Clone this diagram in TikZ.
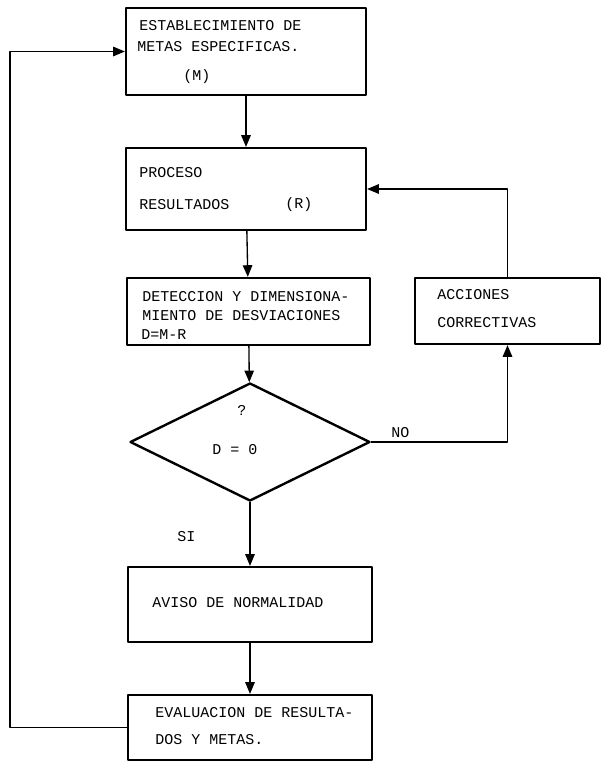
\documentclass[tikz,border=0pt]{standalone}
\usepackage{fontspec}
\setmonofont{Liberation Mono}
\usepackage{tikz}
\usetikzlibrary{arrows,fit,shapes.geometric}
\tikzset{caja/.style={draw,line width=1.8pt,inner sep=0pt},
  txt/.style={anchor=west,inner sep=0pt,font=\ttfamily\fontsize{11.25}{14}\selectfont}}

\begin{document}
\begin{tikzpicture}[line cap=round,line join=round,>=triangle 45,x=0.75pt,y=-0.75pt]
\useasboundingbox (0,0) rectangle (605,765);
\node[caja,fit={(126,8) (366,95)}] (metas) {};
\node[caja,fit={(126,148) (366,230)}] (proceso) {};
\node[caja,fit={(127,278) (370,345)}] (deteccion) {};
\node[caja,fit={(415,278) (600,344)}] (acciones) {};
\node[draw,line width=1.8pt,diamond,inner sep=0pt,minimum width=180pt,minimum height=88.5pt] (decision) at (250,442) {};
\node[caja,fit={(128,567) (372,642)}] (aviso) {};
\node[caja,fit={(128,695) (372,760)}] (evaluacion) {};
\node[txt] (t1) at (139,26) {ESTABLECIMIENTO DE};
\node[txt] (t2) at (137,47) {METAS ESPECIFICAS.};
\node[txt] (t3) at (183,77) {(M)};
\node[txt] (t4) at (139,173) {PROCESO};
\node[txt] (t5) at (139,205) {RESULTADOS};
\node[txt] (t6) at (285,205) {(R)};
\node[txt] (t7) at (142,297) {DETECCION Y DIMENSIONA-};
\node[txt] (t8) at (142,316) {MIENTO DE DESVIACIONES};
\node[txt] (t9) at (141,335) {D=M-R};
\node[txt] (t10) at (437,295) {ACCIONES};
\node[txt] (t11) at (437,323) {CORRECTIVAS};
\node[txt] (t12) at (237,410) {?};
\node[txt] (t13) at (212,450) {D = 0};
\node[txt] (t14) at (391,433) {NO};
\node[txt] (t15) at (177,537) {SI};
\node[txt] (t16) at (152,603) {AVISO DE NORMALIDAD};
\node[txt] (t17) at (155,713) {EVALUACION DE RESULTA-};
\node[txt] (t18) at (155,740) {DOS Y METAS.};
\draw [line width=1pt,->] (metas) -- (proceso);
\draw [line width=1pt,->] (proceso) -- (deteccion);
\draw [line width=1pt,->] (deteccion) -- (decision);
\draw [line width=1pt,->] (decision) -- (aviso);
\draw [line width=1pt,->] (aviso) -- (evaluacion);
\draw [line width=1pt,->] (decision.east) -| (acciones.south);
\draw [line width=1pt,->] (acciones.north) |- (proceso.east);
\draw [line width=1pt,->] (evaluacion.west) -- (10,727.5) |- (metas.west);
\end{tikzpicture}
\end{document}
